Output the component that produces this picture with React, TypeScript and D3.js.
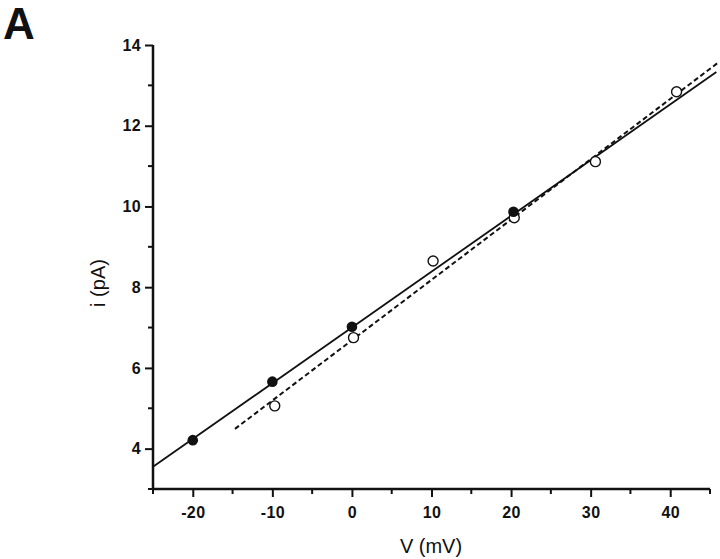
import React, { useEffect, useRef } from 'react';
import * as d3 from 'd3';

// measured values (V in mV, i in pA)
const filledV = [-20, -10, 0, 20.3];
const filledI = [4.21, 5.66, 7.02, 9.87];
const openV = [-9.7, 0.2, 10.2, 20.4, 30.6, 40.8];
const openI = [5.06, 6.75, 8.65, 9.72, 11.11, 12.84];

// fitted lines, end points
const solidFitV = [-25, 45.8];
const solidFitI = [3.55, 13.33];
const dashedFitV = [-14.7, 46];
const dashedFitI = [4.49, 13.56];

const xMajor = [-20, -10, 0, 10, 20, 30, 40];
const xMinor = [-25, -15, -5, 5, 15, 25, 35, 45];
const yMajor = [4, 6, 8, 10, 12, 14];
const yMinor = [3, 5, 7, 9, 11, 13];

const W = 720;
const H = 559;
const INK = '#111';

export default function App() {
  const svgRef = useRef<SVGSVGElement>(null);

  useEffect(() => {
    if (!svgRef.current) return;
    const svg = d3.select(svgRef.current).html('');

    const x = d3.scaleLinear().domain([-25, 45]).range([153, 710]);
    const y = d3.scaleLinear().domain([3, 14]).range([489, 45]);

    const font = 'Liberation Sans, Arial, sans-serif';
    const fmt = (d: any) => String(d); // plain hyphen minus, as in the figure

    // panel letter
    svg.append('text')
      .attr('x', 3).attr('y', 39)
      .attr('font-family', font).attr('font-weight', 'bold').attr('font-size', 44)
      .attr('fill', INK).text('A');

    // x axis
    const gx = svg.append('g').attr('transform', `translate(0,${y(3)})`);
    gx.call(d3.axisBottom(x).tickValues(xMajor).tickSize(8).tickPadding(10).tickFormat(fmt));
    gx.append('g').selectAll('line').data(xMinor).enter().append('line')
      .attr('x1', d => x(d)).attr('x2', d => x(d)).attr('y1', 0).attr('y2', 5)
      .attr('stroke', INK).attr('stroke-width', 2);

    // y axis
    const gy = svg.append('g').attr('transform', `translate(${x(-25)},0)`);
    gy.call(d3.axisLeft(y).tickValues(yMajor).tickSize(8).tickPadding(4).tickFormat(fmt));
    gy.append('g').selectAll('line').data(yMinor).enter().append('line')
      .attr('y1', d => y(d)).attr('y2', d => y(d)).attr('x1', 0).attr('x2', -5)
      .attr('stroke', INK).attr('stroke-width', 2);

    [gx, gy].forEach(g => {
      g.select('.domain').attr('stroke', INK).attr('stroke-width', 2.5)
        .attr('d', g === gx ? `M${x(-25)},0H${x(45)}` : `M0,${y(3)}V${y(14)}`);
      g.selectAll('.tick line').attr('stroke', INK).attr('stroke-width', 2);
      g.selectAll('.tick text').attr('fill', INK).attr('font-family', font)
        .attr('font-weight', 'bold').attr('font-size', 16).attr('letter-spacing', 0.4);
    });

    // axis titles
    svg.append('text')
      .attr('x', 431).attr('y', 553).attr('text-anchor', 'middle')
      .attr('font-family', font).attr('font-size', 20).attr('fill', INK)
      .text('V (mV)');
    svg.append('text')
      .attr('transform', 'translate(105,283) rotate(-90)').attr('text-anchor', 'middle')
      .attr('font-family', font).attr('font-size', 20).attr('fill', INK)
      .text('i (pA)');

    // fit lines
    const line = d3.line<number[]>().x(d => x(d[0])).y(d => y(d[1]));
    const solid = solidFitV.map((v, i) => [v, solidFitI[i]]);
    const dashed = dashedFitV.map((v, i) => [v, dashedFitI[i]]);
    svg.append('path').attr('d', line(solid)).attr('fill', 'none')
      .attr('stroke', INK).attr('stroke-width', 1.8);
    svg.append('path').attr('d', line(dashed)).attr('fill', 'none')
      .attr('stroke', INK).attr('stroke-width', 2).attr('stroke-dasharray', '5,3');

    // points
    svg.append('g').selectAll('circle').data(openV).enter().append('circle')
      .attr('cx', d => x(d)).attr('cy', (_, i) => y(openI[i])).attr('r', 5)
      .attr('fill', '#fff').attr('stroke', INK).attr('stroke-width', 1.4);
    svg.append('g').selectAll('circle').data(filledV).enter().append('circle')
      .attr('cx', d => x(d)).attr('cy', (_, i) => y(filledI[i])).attr('r', 5.3)
      .attr('fill', INK);
  }, []);

  return (
    <svg ref={svgRef} width={W} height={H}
      style={{ position: 'absolute', left: 0, top: 0, background: '#fff', display: 'block' }} />
  );
}
